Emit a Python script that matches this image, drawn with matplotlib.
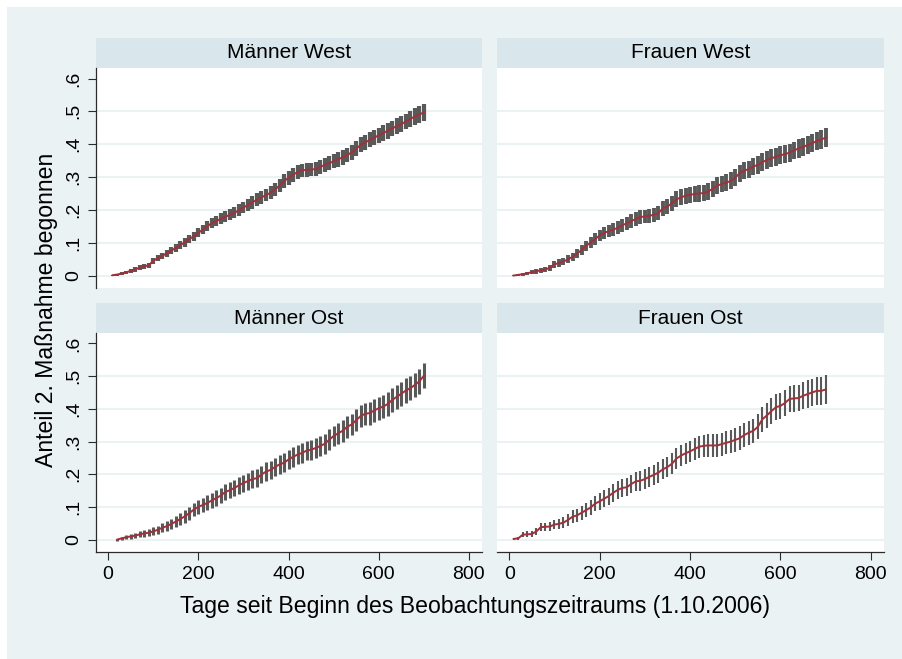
import numpy as np
import matplotlib
matplotlib.use("Agg")
import matplotlib.pyplot as plt
from matplotlib.patches import Rectangle

plt.rcParams['font.family'] = ['Liberation Sans', 'DejaVu Sans']

# ---------------- data ----------------
panel_titles = ["Männer West", "Frauen West", "Männer Ost", "Frauen Ost"]

days = [10, 20, 30, 40, 50, 60, 70, 80, 90, 100,
        110, 120, 130, 140, 150, 160, 170, 180, 190, 200,
        210, 220, 230, 240, 250, 260, 270, 280, 290, 300,
        310, 320, 330, 340, 350, 360, 370, 380, 390, 400,
        410, 420, 430, 440, 450, 460, 470, 480, 490, 500,
        510, 520, 530, 540, 550, 560, 570, 580, 590, 600,
        610, 620, 630, 640, 650, 660, 670, 680, 690, 700]

est_maenner_west = [0.001, 0.003, 0.006, 0.010, 0.014, 0.019, 0.024, 0.028, 0.031, 0.045,
                    0.053, 0.060, 0.068, 0.076, 0.084, 0.093, 0.101, 0.111, 0.120, 0.130,
                    0.140, 0.150, 0.160, 0.166, 0.173, 0.179, 0.185, 0.191, 0.199, 0.207,
                    0.215, 0.223, 0.231, 0.238, 0.245, 0.252, 0.262, 0.274, 0.287, 0.298,
                    0.307, 0.315, 0.320, 0.322, 0.323, 0.324, 0.330, 0.337, 0.342, 0.348,
                    0.354, 0.360, 0.367, 0.375, 0.386, 0.398, 0.405, 0.413, 0.420, 0.427,
                    0.434, 0.441, 0.448, 0.455, 0.461, 0.469, 0.477, 0.484, 0.490, 0.497]
ci_maenner_west = [0.002, 0.003, 0.004, 0.005, 0.006, 0.007, 0.007, 0.008, 0.008, 0.009,
                   0.010, 0.010, 0.011, 0.011, 0.012, 0.012, 0.013, 0.013, 0.014, 0.014,
                   0.015, 0.015, 0.016, 0.016, 0.016, 0.017, 0.017, 0.017, 0.018, 0.018,
                   0.018, 0.019, 0.019, 0.019, 0.019, 0.020, 0.020, 0.020, 0.021, 0.021,
                   0.021, 0.021, 0.021, 0.021, 0.021, 0.021, 0.022, 0.022, 0.022, 0.022,
                   0.022, 0.022, 0.022, 0.023, 0.023, 0.023, 0.023, 0.023, 0.023, 0.023,
                   0.023, 0.024, 0.024, 0.024, 0.024, 0.024, 0.024, 0.025, 0.025, 0.025]

est_frauen_west = [0.000, 0.002, 0.004, 0.007, 0.010, 0.013, 0.016, 0.018, 0.024, 0.034,
                   0.038, 0.043, 0.049, 0.057, 0.066, 0.078, 0.090, 0.101, 0.111, 0.122,
                   0.130, 0.135, 0.140, 0.145, 0.153, 0.159, 0.166, 0.172, 0.178, 0.180,
                   0.182, 0.185, 0.190, 0.205, 0.210, 0.220, 0.232, 0.238, 0.243, 0.246,
                   0.248, 0.250, 0.251, 0.256, 0.264, 0.274, 0.278, 0.283, 0.288, 0.298,
                   0.312, 0.320, 0.324, 0.332, 0.337, 0.345, 0.352, 0.357, 0.362, 0.366,
                   0.370, 0.374, 0.381, 0.387, 0.392, 0.397, 0.403, 0.409, 0.414, 0.420]
ci_frauen_west = [0.001, 0.003, 0.004, 0.005, 0.006, 0.007, 0.007, 0.008, 0.009, 0.010,
                  0.011, 0.011, 0.012, 0.013, 0.014, 0.015, 0.016, 0.016, 0.017, 0.018,
                  0.018, 0.019, 0.019, 0.020, 0.020, 0.020, 0.021, 0.021, 0.021, 0.021,
                  0.022, 0.022, 0.022, 0.023, 0.023, 0.023, 0.024, 0.024, 0.024, 0.024,
                  0.024, 0.025, 0.025, 0.025, 0.025, 0.025, 0.025, 0.026, 0.026, 0.026,
                  0.026, 0.026, 0.026, 0.026, 0.027, 0.027, 0.027, 0.027, 0.027, 0.027,
                  0.027, 0.027, 0.027, 0.028, 0.028, 0.028, 0.028, 0.028, 0.028, 0.028]

est_maenner_ost = [np.nan, 0.000, 0.004, 0.007, 0.010, 0.012, 0.016, 0.019, 0.021, 0.025,
                   0.030, 0.036, 0.041, 0.048, 0.055, 0.063, 0.071, 0.081, 0.092, 0.100,
                   0.106, 0.112, 0.120, 0.127, 0.135, 0.146, 0.151, 0.158, 0.166, 0.173,
                   0.179, 0.185, 0.188, 0.199, 0.208, 0.213, 0.222, 0.230, 0.235, 0.245,
                   0.253, 0.260, 0.265, 0.272, 0.275, 0.280, 0.286, 0.293, 0.305, 0.317,
                   0.325, 0.333, 0.345, 0.352, 0.365, 0.378, 0.385, 0.387, 0.395, 0.402,
                   0.407, 0.415, 0.427, 0.437, 0.446, 0.456, 0.463, 0.473, 0.484, 0.501]
ci_maenner_ost = [np.nan, 0.003, 0.005, 0.006, 0.007, 0.008, 0.009, 0.010, 0.011, 0.012,
                  0.013, 0.014, 0.015, 0.016, 0.017, 0.018, 0.019, 0.020, 0.021, 0.022,
                  0.022, 0.023, 0.023, 0.024, 0.024, 0.025, 0.025, 0.025, 0.026, 0.026,
                  0.026, 0.027, 0.027, 0.027, 0.028, 0.028, 0.028, 0.029, 0.029, 0.029,
                  0.030, 0.030, 0.030, 0.030, 0.031, 0.031, 0.031, 0.031, 0.032, 0.032,
                  0.032, 0.033, 0.033, 0.033, 0.034, 0.034, 0.034, 0.035, 0.035, 0.035,
                  0.035, 0.036, 0.036, 0.036, 0.037, 0.037, 0.037, 0.038, 0.038, 0.038]

est_frauen_ost = [0.002, 0.004, 0.015, 0.016, 0.017, 0.025, 0.038, 0.039, 0.040, 0.046,
                  0.048, 0.052, 0.060, 0.070, 0.074, 0.082, 0.090, 0.098, 0.110, 0.117,
                  0.125, 0.133, 0.143, 0.152, 0.158, 0.160, 0.170, 0.178, 0.180, 0.185,
                  0.192, 0.198, 0.205, 0.215, 0.222, 0.232, 0.248, 0.257, 0.264, 0.270,
                  0.277, 0.284, 0.287, 0.288, 0.288, 0.288, 0.292, 0.296, 0.300, 0.305,
                  0.310, 0.320, 0.327, 0.333, 0.345, 0.368, 0.380, 0.393, 0.405, 0.409,
                  0.418, 0.430, 0.432, 0.433, 0.440, 0.445, 0.450, 0.455, 0.455, 0.459]
ci_frauen_ost = [0.003, 0.005, 0.008, 0.009, 0.010, 0.011, 0.013, 0.013, 0.014, 0.015,
                 0.016, 0.017, 0.018, 0.019, 0.020, 0.021, 0.022, 0.023, 0.024, 0.025,
                 0.026, 0.026, 0.027, 0.027, 0.028, 0.028, 0.029, 0.029, 0.030, 0.030,
                 0.030, 0.031, 0.031, 0.031, 0.032, 0.032, 0.032, 0.033, 0.033, 0.033,
                 0.034, 0.034, 0.034, 0.034, 0.035, 0.035, 0.035, 0.035, 0.036, 0.036,
                 0.036, 0.037, 0.037, 0.037, 0.038, 0.038, 0.039, 0.039, 0.039, 0.040,
                 0.040, 0.040, 0.041, 0.041, 0.041, 0.042, 0.042, 0.042, 0.043, 0.043]

x_ticks = [0, 200, 400, 600, 800]
x_tick_labels = ["0", "200", "400", "600", "800"]
y_ticks = [0.0, 0.1, 0.2, 0.3, 0.4, 0.5, 0.6]
y_tick_labels = ["0", ".1", ".2", ".3", ".4", ".5", ".6"]
x_title = "Tage seit Beginn des Beobachtungszeitraums (1.10.2006)"
y_title = "Anteil 2. Maßnahme begonnen"

series = [(est_maenner_west, ci_maenner_west),
          (est_frauen_west, ci_frauen_west),
          (est_maenner_ost, ci_maenner_ost),
          (est_frauen_ost, ci_frauen_ost)]

# ---------------- style ----------------
W, H = 903, 659
OUTER_BG = "#EAF2F3"
STRIP_BG = "#D9E6EB"
GRID = "#EAF2F3"
BAR = "#595959"
LINE = "#A0303A"
AXIS = "#2B2B2B"

def fx(x):
    return x / W

def fy(y):
    return 1 - y / H

fig = plt.figure(figsize=(W / 100, H / 100), dpi=100)
fig.patch.set_facecolor("white")
bg = Rectangle((fx(7), 0), 1.0, 1.0, transform=fig.transFigure,
               facecolor=OUTER_BG, edgecolor="none", linewidth=0, zorder=-10)
bg.set_bounds(fx(7), -0.01, 1.02 - fx(7), fy(7) + 0.01)
fig.add_artist(bg)

plot_boxes = [(96, 68, 482, 288), (497, 68, 884, 288),
              (96, 333, 482, 552), (497, 333, 884, 552)]
strip_h = 30
bar_widths = [3.0, 2.8, 2.2, 1.5]

for i, (box, title, (est, ci)) in enumerate(zip(plot_boxes, panel_titles, series)):
    x0, y0, x1, y1 = box
    row, col = divmod(i, 2)
    # strip
    sax = fig.add_axes([fx(x0), fy(y0), fx(x1 - x0), strip_h / H])
    sax.set_facecolor(STRIP_BG)
    sax.set_xticks([]); sax.set_yticks([])
    for s in sax.spines.values():
        s.set_visible(False)
    sax.text(0.5, 0.5, title, ha="center", va="center", fontsize=15, color="black",
             transform=sax.transAxes)

    ax = fig.add_axes([fx(x0), fy(y1), fx(x1 - x0), (y1 - y0) / H])
    ax.set_facecolor("white")
    ax.set_xlim(-27, 829)
    ax.set_ylim(-0.038, 0.632)
    for g in y_ticks[:-1]:
        ax.axhline(g, color=GRID, lw=1.5, zorder=1)

    d = np.array(days, dtype=float)
    e = np.array(est, dtype=float)
    c = np.array(ci, dtype=float)
    ax.vlines(d, e - c, e + c, colors=BAR, lw=bar_widths[i], zorder=2)
    ax.plot(d, e, color=LINE, lw=1.4, zorder=3)

    for s in ax.spines.values():
        s.set_visible(False)
    ax.set_xticks(x_ticks)
    ax.set_xticklabels(x_tick_labels)
    ax.set_yticks(y_ticks)
    ax.set_yticklabels(y_tick_labels, rotation=90, va="center")
    ax.tick_params(direction="out", length=6, width=0.8, color=AXIS, labelsize=14,
                   labelcolor="black", pad=4)
    if col == 0:
        ax.spines["left"].set_visible(True)
        ax.spines["left"].set_color(AXIS)
        ax.spines["left"].set_linewidth(0.9)
    else:
        ax.tick_params(axis="y", left=False, labelleft=False)
    if row == 1:
        ax.spines["bottom"].set_visible(True)
        ax.spines["bottom"].set_color(AXIS)
        ax.spines["bottom"].set_linewidth(0.9)
    else:
        ax.tick_params(axis="x", bottom=False, labelbottom=False)

fig.text(fx(475), fy(613), x_title, ha="center", va="baseline", fontsize=16.6, color="black")
fig.text(fx(47), fy(310), y_title, ha="center", va="center", rotation=90,
         fontsize=16.6, color="black")

fig.savefig("out.png", dpi=100, facecolor=fig.get_facecolor())
